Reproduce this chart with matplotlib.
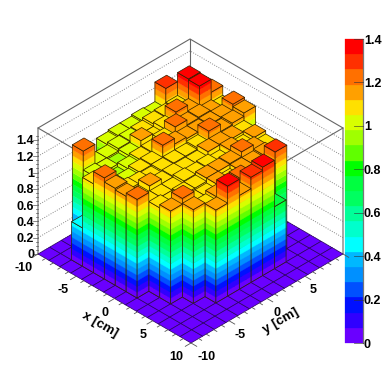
import numpy as np
import matplotlib
matplotlib.use("Agg")
import matplotlib.pyplot as plt
from matplotlib.collections import PolyCollection

plt.rcParams['font.family'] = ['Liberation Sans', 'DejaVu Sans']

# first x bin of each y row and the heights that follow it (y rows 1..12)
row_01 = (2, [0.47, 1.09, 1.24, 1.19, 1.17, 1.21])
row_02 = (1, [1.25, 1.02, 1.00, 1.03, 1.08, 1.06, 1.07, 1.10, 1.14])
row_03 = (1, [1.00, 1.00, 0.97, 1.03, 1.07, 1.13, 1.07, 1.07, 1.21, 1.15])
row_04 = (1, [1.00, 0.98, 1.02, 1.06, 1.05, 1.07, 1.07, 1.09, 1.07, 1.10, 1.14])
row_05 = (0, [1.00, 1.03, 1.02, 1.05, 1.07, 1.07, 1.08, 1.10, 1.09, 1.07, 1.14, 1.35])
row_06 = (0, [1.02, 1.04, 1.12, 1.06, 1.22, 1.08, 1.07, 1.09, 1.13, 1.13, 1.13, 1.15])
row_07 = (0, [1.02, 1.05, 1.05, 1.11, 1.15, 1.08, 1.07, 1.10, 1.13, 1.08, 1.20, 1.29])
row_08 = (0, [1.04, 1.08, 1.10, 1.20, 1.13, 1.10, 1.13, 1.07, 1.14, 1.13, 1.08, 1.33])
row_09 = (0, [1.03, 1.09, 1.22, 1.14, 1.13, 1.22, 1.13, 1.14, 1.20, 1.13, 1.13, 0.76])
row_10 = (0, [1.27, 1.10, 1.14, 1.15, 1.14, 1.13, 1.12, 1.09, 1.14, 1.15, 1.27])
row_11 = (1, [1.38, 1.37, 1.12, 1.14, 1.15, 1.10, 1.13, 1.09])
row_12 = (2, [1.21, 1.09, 1.22, 1.19])
rows = {1: row_01, 2: row_02, 3: row_03, 4: row_04, 5: row_05, 6: row_06,
        7: row_07, 8: row_08, 9: row_09, 10: row_10, 11: row_11, 12: row_12}

x_edges = np.linspace(-10, 10, 15)
y_edges = np.linspace(-10, 10, 14)

palette = ['#6a00ff', '#3000ff', '#0010ff', '#0050ff', '#0090ff', '#00b8ff', '#00ffff',
           '#00ffcc', '#00ff99', '#00ff60', '#00ff40', '#00ff00', '#60ff00', '#a0ff00',
           '#d8ff00', '#ffe000', '#ffa000', '#ff7000', '#ff3000', '#ff0000']
band = 0.07
z_top = 1.546

x_ticks = [-10, -5, 0, 5, 10]
y_ticks = [-10, -5, 0, 5]
z_ticks = [0, 0.2, 0.4, 0.6, 0.8, 1, 1.2, 1.4]
z_labels = ['0', '0.2', '0.4', '0.6', '0.8', '1', '1.2', '1.4']
x_label_dx = [-14, -13, -10, -10, -15]
y_label_dx = [16, 11, 10, 8]


def proj(x, y, z=0.0):
    sx = 38 + (x + 10) * 7.65 + (y + 10) * 7.6
    sy = 254 + (x + 10) * 4.45 - (y + 10) * 4.45 - z * 81.5
    return (sx, sy)


def band_colour(h):
    return palette[min(int(h / band), len(palette) - 1)]


fig = plt.figure(figsize=(3.82, 3.82), dpi=100)
ax = fig.add_axes([0, 0, 1, 1])
ax.set_xlim(0, 382)
ax.set_ylim(382, 0)
ax.axis('off')

# back walls with dotted grid
for z in z_ticks:
    pts = [proj(-10, -10, z), proj(-10, 10, z), proj(10, 10, z)]
    ax.plot(*zip(*pts), color='#888888', lw=0.7, ls=(0, (1, 1.5)), zorder=1)
box = [[(-10, -10, 0), (-10, -10, z_top), (-10, 10, z_top), (10, 10, z_top), (10, 10, 0)],
       [(-10, 10, 0), (-10, 10, z_top)],
       [(-10, -10, z_top), (10, -10, z_top), (10, 10, z_top)]]
for seg in box:
    pts = [proj(*p) for p in seg]
    ax.plot(*zip(*pts), color='#666666', lw=0.8, zorder=1)

# floor
floor = []
for i in range(14):
    for j in range(13):
        floor.append([proj(x_edges[i], y_edges[j]), proj(x_edges[i + 1], y_edges[j]),
                      proj(x_edges[i + 1], y_edges[j + 1]), proj(x_edges[i], y_edges[j + 1])])
ax.add_collection(PolyCollection(floor, facecolors=palette[0], edgecolors='#2a0060',
                                 linewidths=0.5, zorder=2))

# bars, back to front, sides cut in colour bands
polys, faces, edges, widths = [], [], [], []
line_col = '#302000'
for j in sorted(rows, reverse=True):
    start, heights = rows[j]
    for n, h in enumerate(heights):
        i = start + n
        x0, x1 = x_edges[i], x_edges[i + 1]
        y0, y1 = y_edges[j], y_edges[j + 1]
        for side in [((x0, y0), (x1, y0)), ((x1, y0), (x1, y1))]:
            (ax_, ay_), (bx_, by_) = side
            k = 0
            while k * band < h:
                z0 = k * band
                z1 = min(h, (k + 1) * band)
                polys.append([proj(ax_, ay_, z0), proj(bx_, by_, z0), proj(bx_, by_, z1), proj(ax_, ay_, z1)])
                faces.append(palette[k])
                edges.append(palette[k])
                widths.append(0.25)
                k += 1
            polys.append([proj(ax_, ay_, 0), proj(bx_, by_, 0), proj(bx_, by_, h), proj(ax_, ay_, h)])
            faces.append('none')
            edges.append(line_col)
            widths.append(0.5)
        polys.append([proj(x0, y0, h), proj(x1, y0, h), proj(x1, y1, h), proj(x0, y1, h)])
        faces.append(band_colour(h))
        edges.append(line_col)
        widths.append(0.5)
ax.add_collection(PolyCollection(polys, facecolors=faces, edgecolors=edges,
                                 linewidths=widths, zorder=3))

# axis ticks
for v in np.arange(-10, 10.1, 1):
    size = 0.75 if v % 5 == 0 else 0.4
    a, b = proj(v, -10), proj(v, -10 - size)
    ax.plot([a[0], b[0]], [a[1], b[1]], color='#555555', lw=0.6, zorder=4)
    a, b = proj(10, v), proj(10 + size, v)
    ax.plot([a[0], b[0]], [a[1], b[1]], color='#555555', lw=0.6, zorder=4)
for z in np.arange(0, 1.5, 0.05):
    size = 5 if abs(z / 0.2 - round(z / 0.2)) < 1e-6 else 2.5
    a = proj(-10, -10, z)
    ax.plot([a[0] - size, a[0]], [a[1], a[1]], color='#555555', lw=0.5, zorder=1)

fs = 9
for v, dx in zip(x_ticks, x_label_dx):
    sx, sy = proj(v, -10)
    ax.text(sx + dx, sy + 14, str(v), fontsize=fs, fontweight='bold', ha='center', va='center')
for v, dx in zip(y_ticks, y_label_dx):
    sx, sy = proj(10, v)
    ax.text(sx + dx, sy + 14, str(v), fontsize=fs, fontweight='bold', ha='center', va='center')
for z, lab in zip(z_ticks, z_labels):
    sx, sy = proj(-10, -10, z)
    ax.text(sx - 4, sy + 1.5, lab, fontsize=fs, fontweight='bold', ha='right', va='center')
ax.text(100, 325, 'x [cm]', fontsize=9.5, fontweight='bold', rotation=-30, ha='center', va='center')
ax.text(281, 321, 'y [cm]', fontsize=9.5, fontweight='bold', rotation=30, ha='center', va='center')

# colour bar
scale_top, scale_bottom = 39, 343
for k, col in enumerate(palette):
    lo = scale_bottom - (scale_bottom - scale_top) * k / 20
    hi = scale_bottom - (scale_bottom - scale_top) * (k + 1) / 20
    ax.fill([345, 362.5, 362.5, 345], [lo, lo, hi, hi], color=col, lw=0.2, zorder=2)
ax.plot([362.5, 362.5], [scale_top, scale_bottom], color='#777777', lw=0.9, zorder=3)
for z, lab in zip(z_ticks, z_labels):
    sy = scale_bottom - (scale_bottom - scale_top) * z / 1.4
    ax.plot([354, 362.5], [sy, sy], color='#333333', lw=0.6, alpha=0.7, zorder=3)
    ax.text(364, sy + 1.5, lab, fontsize=fs, fontweight='bold', ha='left', va='center', clip_on=False)

fig.savefig('out.png', dpi=100)
